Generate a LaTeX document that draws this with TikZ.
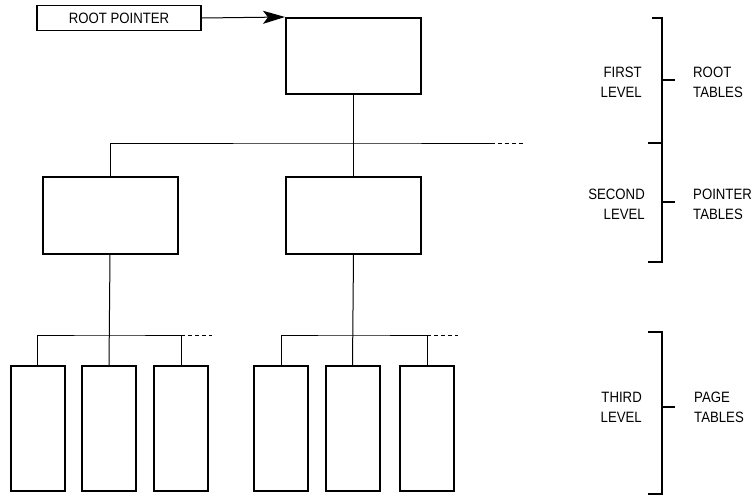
\documentclass[tikz,border=0pt]{standalone}
\usepackage{fontspec}
\setmainfont{Liberation Sans}[FakeStretch=0.88]
\usetikzlibrary{arrows.meta,positioning}

\begin{document}
\begin{tikzpicture}[
  x=1pt, y=-1pt,
  tablebox/.style={draw, line width=2pt, inner sep=0pt, minimum width=135pt, minimum height=77pt},
  pagebox/.style={draw, line width=2pt, inner sep=0pt, minimum width=54pt, minimum height=125pt},
  ptrbox/.style={draw, line width=1.8pt, inner sep=0pt, minimum width=164pt, minimum height=25pt, font=\fontsize{15}{18}\selectfont},
  link/.style={line width=1pt},
  dashlink/.style={line width=1pt, dash pattern=on 4pt off 3pt},
  arrow/.style={-{Stealth[length=22pt, width=13pt, inset=5pt]}, line width=1pt},
  bracket/.style={line width=1.2pt},
  lbl/.style={inner sep=0pt, font=\fontsize{15}{20}\selectfont},
]
\useasboundingbox (0,0) rectangle (755,496);
% --- root pointer and first level ---
\node[ptrbox] (rootptr) at (119,18) {ROOT POINTER};
\node[tablebox, minimum height=76pt] (root) at (353.5,56) {};
% --- second level ---
\node[tablebox] (ptrA) at (110,215) {};
\node[tablebox] (ptrB) at (353.5,215) {};
% --- third level ---
\foreach \name/\x in {pgA1/37.5, pgA2/109, pgA3/181, pgB1/281, pgB2/352.5, pgB3/427}
  \node[pagebox] (\name) at (\x,428.5) {};
% --- bus coordinates ---
\coordinate (busRoot) at (353.5,143);
\coordinate (busA) at (110,335);
\coordinate (busB) at (353.5,335);
% --- arrows and links ---
\draw[arrow] (rootptr.east) -- (root.north west);
\draw[link] (root.south) -- (ptrB.north);
\draw[link] (ptrA.north) |- (busRoot) -- ++(137,0) coordinate (busRootEnd);
\draw[dashlink] (busRootEnd) -- ++(32,0);
\draw[link] (ptrA.south) -- (pgA2.north);
\draw[link] (pgA1.north) |- (busA) -| (pgA3.north);
\draw[dashlink] (pgA3.north |- busA) -- ++(31,0);
\draw[link] (ptrB.south) -- (pgB2.north);
\draw[link] (pgB1.north) |- (busB) -| (pgB3.north);
\draw[dashlink] (pgB3.north |- busB) -- ++(31,0);
% --- level brackets ---
\draw[bracket] (652,18) -- (662,18) -- (662,262) -- (648,262);
\draw[bracket] (648,143) -- (662,143);
\draw[bracket] (662,80) -- (675,80);
\draw[bracket] (662,202) -- (675,202);
\draw[bracket] (648,332) -- (662,332) -- (662,494) -- (648,494);
\draw[bracket] (662,407) -- (675,407);
% --- level labels ---
\node[lbl, anchor=east, align=right] (lvlA) at (642,82) {FIRST\\LEVEL};
\node[lbl, anchor=east, align=right] (lvlB) at (645,204) {SECOND\\LEVEL};
\node[lbl, anchor=east, align=right] (lvlC) at (642,407) {THIRD\\LEVEL};
\node[lbl, anchor=west, align=left] (kindA) at (693,82) {ROOT\\TABLES};
\node[lbl, anchor=west, align=left] (kindB) at (693,204) {POINTER\\TABLES};
\node[lbl, anchor=west, align=left] (kindC) at (694,407) {PAGE\\TABLES};
\end{tikzpicture}
\end{document}
